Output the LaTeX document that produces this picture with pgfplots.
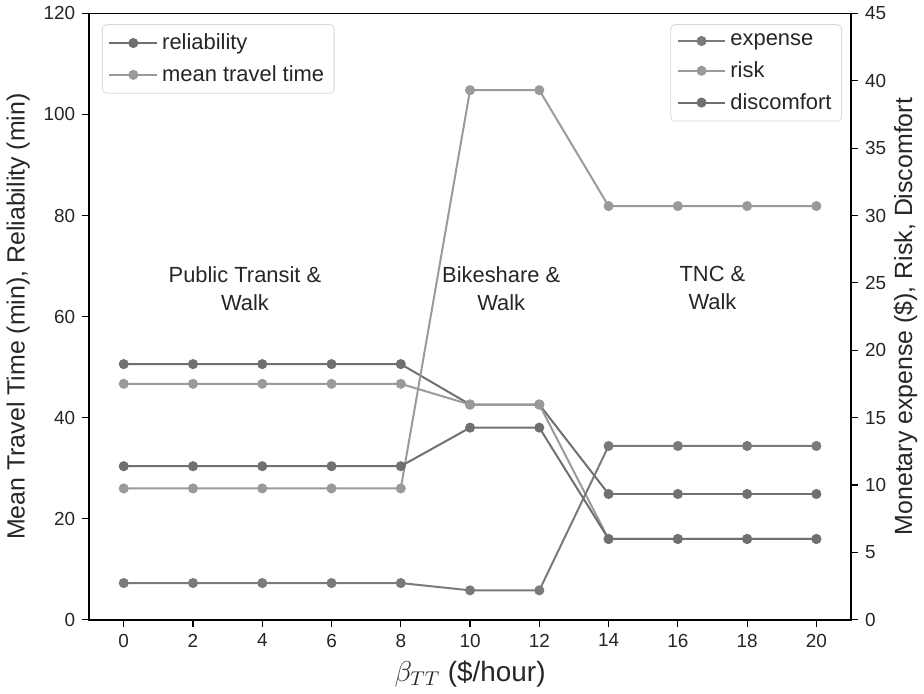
\documentclass[border=0pt]{standalone}
\usepackage{fontspec}
\setmainfont{Liberation Sans}
\usepackage{pgfplots}
\pgfplotsset{compat=1.18}
\definecolor{darkg}{HTML}{707070}
\definecolor{midg}{HTML}{7A7A7A}
\definecolor{lightg}{HTML}{9A9A9A}
\definecolor{txt}{HTML}{262626}
\pgfplotsset{
  common/.style={
    scale only axis, width=382.5pt, height=304.5pt,
    xmin=-1, xmax=21,
    tick align=outside, major tick length=3.5pt,
    tick style={black, line width=0.6pt},
    axis line style={black, line width=0.7pt},
    ticklabel style={font=\fontsize{9.5}{10}\selectfont, text=txt},
    /pgf/number format/assume math mode=true,
    label style={font=\fontsize{12.5}{14}\selectfont, text=txt},
    legend style={draw=black!15, rounded corners=2pt, font=\fontsize{11}{12}\selectfont,
      text=txt, row sep=2.5pt, inner xsep=3pt, inner ysep=2.5pt},
    legend cell align=left,
    legend image code/.code={\draw[mark repeat=2,mark phase=2] plot coordinates {(0pt,0pt)(12pt,0pt)(24pt,0pt)};},
    every axis plot/.append style={line width=1pt, mark=*, mark size=2pt},
  }
}
\begin{document}
\begin{tikzpicture}
\begin{axis}[common,
  ymin=0, ymax=120,
  xtick={0,2,...,20}, ytick={0,20,...,120},
  xtick pos=bottom, ytick pos=left,
  xlabel={$\beta_{TT}$ (\$/hour)},
  xlabel style={font=\fontsize{14}{15}\selectfont},
  ylabel={Mean Travel Time (min), Reliability (min)},
  ylabel shift=0pt,
  legend style={at={(0.017,0.982)}, anchor=north west},
]
\addplot[color=darkg, mark options={fill=darkg, draw=darkg}] coordinates {
 (0,50.6) (2,50.6) (4,50.6) (6,50.6) (8,50.6) (10,42.6) (12,42.6) (14,24.9) (16,24.9) (18,24.9) (20,24.9)};
\addlegendentry{reliability}
\addplot[color=lightg, mark options={fill=lightg, draw=lightg}] coordinates {
 (0,46.7) (2,46.7) (4,46.7) (6,46.7) (8,46.7) (10,42.6) (12,42.6) (14,16.0) (16,16.0) (18,16.0) (20,16.0)};
\addlegendentry{mean travel time}
\node[align=center, font=\fontsize{11}{14}\selectfont, text=txt] at (axis cs:3.5,65.6) {Public Transit \&\\Walk};
\node[align=center, font=\fontsize{11}{14}\selectfont, text=txt] at (axis cs:10.9,65.6) {Bikeshare \&\\Walk};
\node[align=center, font=\fontsize{11}{14}\selectfont, text=txt] at (axis cs:17.0,65.6) {TNC \&\\Walk};
\end{axis}
\begin{axis}[common,
  ymin=0, ymax=45,
  ytick={0,5,...,45},
  axis x line=none, axis y line*=right,
  ylabel={Monetary expense (\$), Risk, Discomfort},
  ylabel shift=-3pt,
  legend style={at={(0.988,0.982)}, anchor=north east},
]
\addplot[color=midg, mark options={fill=midg, draw=midg}] coordinates {
 (0,2.73) (2,2.73) (4,2.73) (6,2.73) (8,2.73) (10,2.19) (12,2.19) (14,12.9) (16,12.9) (18,12.9) (20,12.9)};
\addlegendentry{expense}
\addplot[color=lightg, mark options={fill=lightg, draw=lightg}] coordinates {
 (0,9.75) (2,9.75) (4,9.75) (6,9.75) (8,9.75) (10,39.3) (12,39.3) (14,30.7) (16,30.7) (18,30.7) (20,30.7)};
\addlegendentry{risk}
\addplot[color=darkg, mark options={fill=darkg, draw=darkg}] coordinates {
 (0,11.4) (2,11.4) (4,11.4) (6,11.4) (8,11.4) (10,14.26) (12,14.26) (14,6.0) (16,6.0) (18,6.0) (20,6.0)};
\addlegendentry{discomfort}
\end{axis}
\end{tikzpicture}
\end{document}
